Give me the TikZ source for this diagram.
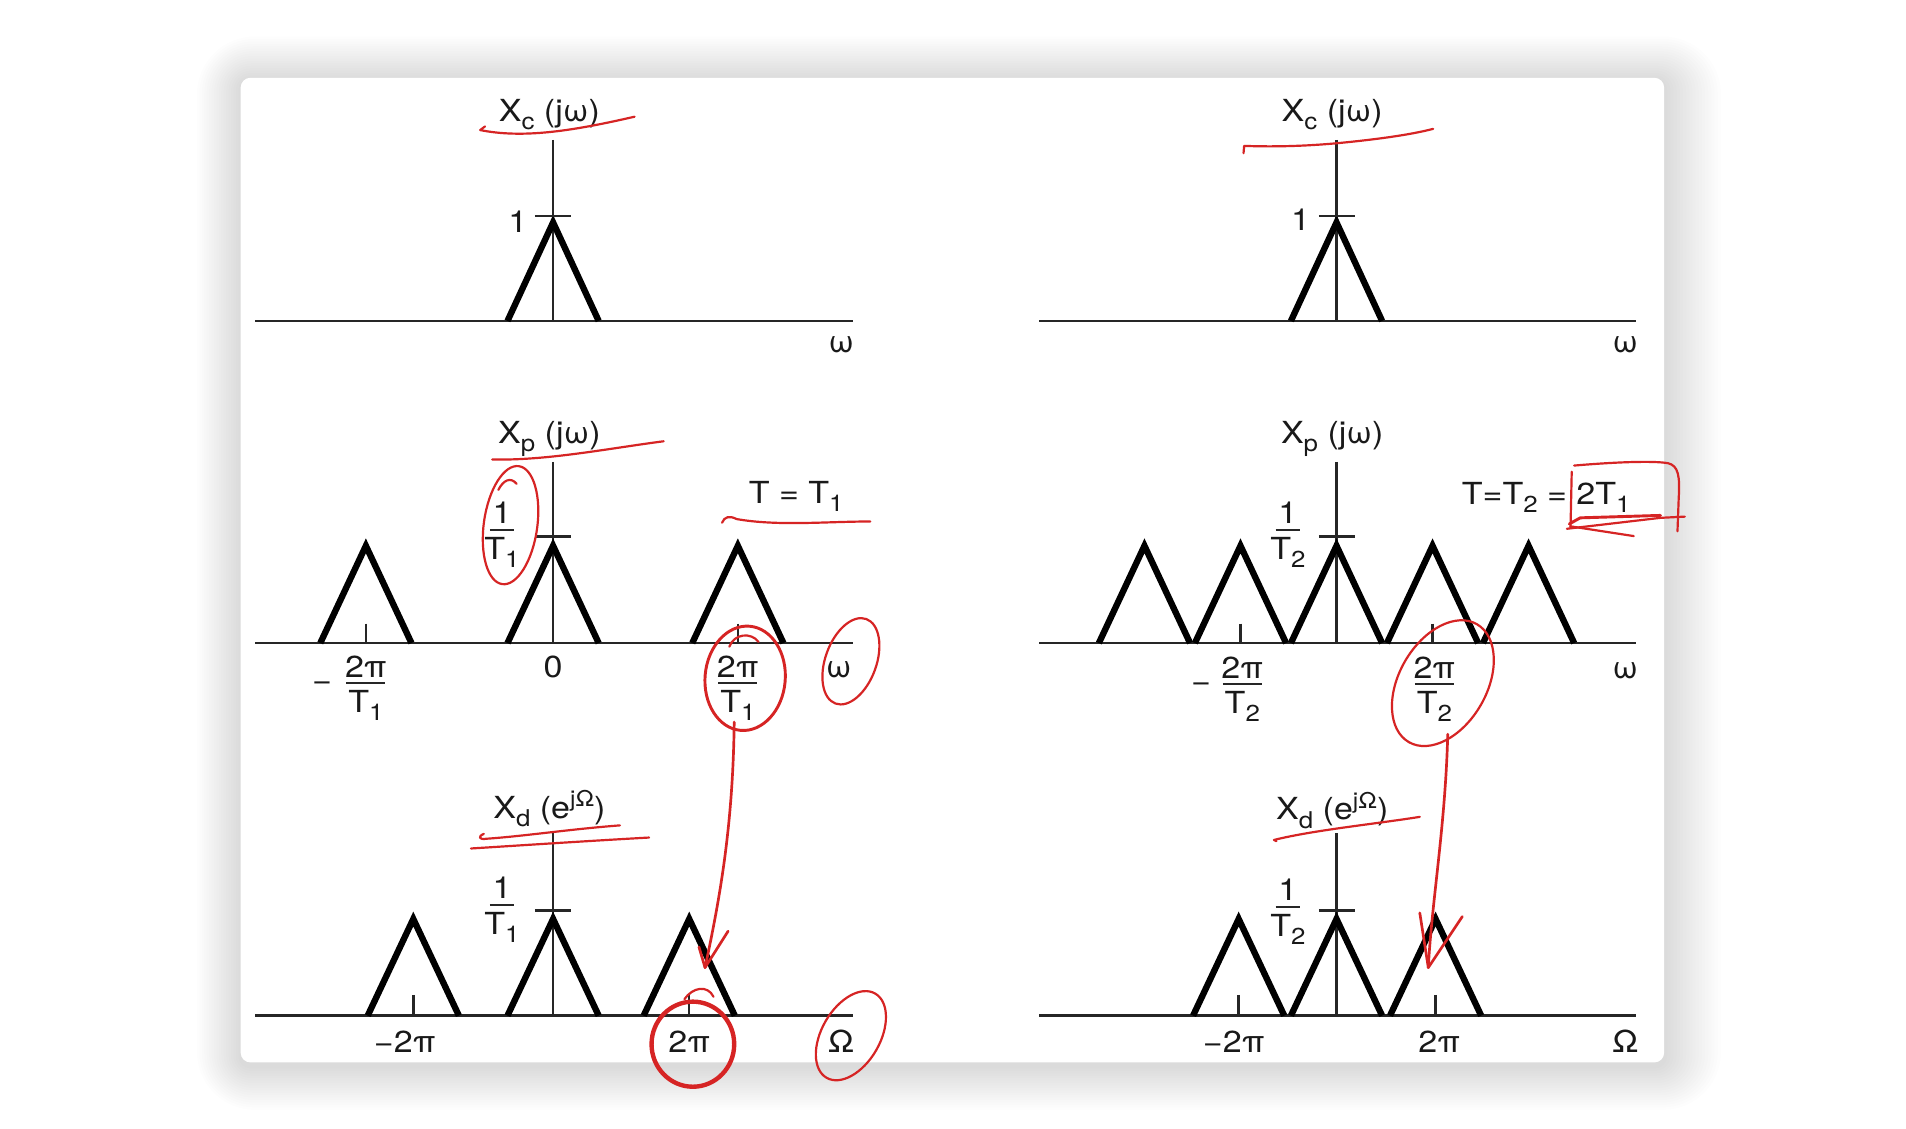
\documentclass[tikz,border=0pt]{standalone}
\usepackage{fontspec}
\setmainfont{TeX Gyre Heros}[FakeStretch=1.12]
\definecolor{inkred}{RGB}{214,36,36}
\newcommand\sbs[1]{\raisebox{-3.4pt}{\fontsize{9.5}{10}\selectfont #1}}
\newcommand\sps[1]{\raisebox{4.6pt}{\fontsize{9}{10}\selectfont #1}}
\newcommand\fracat[6]{%
  \node[lbl, anchor=base] (#1n) at (#2,#3-5) {#4};
  \node[lbl, anchor=base] (#1d) at (#2,#3+24) {#5};
  \draw[fracbar] (#2-#6,#3) -- (#2+#6,#3);}
\begin{document}
\begin{tikzpicture}[x=0.5pt,y=-0.5pt,
  lbl/.style={font=\fontsize{12.5}{14}\selectfont, inner sep=0pt, text=black!90},
  axis/.style={line width=1.1pt, black!85},
  vax/.style={line width=1pt, black!85},
  tri/.style={line width=2.6pt, line join=miter, black},
  tickm/.style={line width=1pt, black!85},
  fracbar/.style={line width=0.9pt, black!85},
  ink/.style={draw=inkred, line width=0.9pt, line cap=round, line join=round},
  inkm/.style={ink, line width=1.2pt},
  inkb/.style={ink, line width=1.8pt}]
\useasboundingbox (0,0) rectangle (1568,928);
\fill[white] (0,0) rectangle (1568,928);
% soft shadow round the card
\foreach \i in {1,...,18} {
  \pgfmathsetmacro\rr{4+\i*1.1}
  \pgfmathsetmacro\dd{\i*2}
  \fill[black, opacity=0.0085, rounded corners=\rr pt]
    (198-\dd,66-\dd) rectangle (1369+\dd+0.3*\dd,877+\dd);
}
\fill[white, rounded corners=4pt] (198,64) rectangle (1369,874);

% ===== top left =====
\draw[axis] (210,264) -- (702,264);
\draw[vax] (455,115) -- (455,264);
\draw[tri] (417.5,264) -- (455,183) -- (492.5,264);
\draw[tickm] (440,177.5) -- (470,177.5);
\node[lbl,anchor=base] (xcL) at (452,100) {X\sbs{c} (jω)};
\node[lbl,anchor=base] (oneL) at (426,191) {1};
\node[lbl,anchor=base] (wTL) at (692,290) {ω};

% ===== top right =====
\draw[axis] (855,264) -- (1346,264);
\draw[vax] (1099.5,115) -- (1099.5,264);
\draw[tri] (1062,264) -- (1099.5,183) -- (1137,264);
\draw[tickm] (1085,177.5) -- (1115,177.5);
\node[lbl,anchor=base] (xcR) at (1096,100) {X\sbs{c} (jω)};
\node[lbl,anchor=base] (oneR) at (1070,190) {1};
\node[lbl,anchor=base] (wTR) at (1337,290) {ω};

% ===== middle left =====
\draw[axis] (210,529) -- (702,529);
\draw[vax] (455,380) -- (455,529);
\foreach \c in {301,455,607} \draw[tri] (\c-37.5,529) -- (\c,449) -- (\c+37.5,529);
\draw[tickm] (440,441.5) -- (470,441.5);
\draw[tickm] (301,513) -- (301,529);
\draw[tickm] (607,513) -- (607,529);
\node[lbl,anchor=base] (xpL) at (452,365) {X\sbs{p} (jω)};
\fracat{fA}{413}{436}{1}{T\sbs{1}}{10}
\node[lbl,anchor=base] (mA) at (265,568) {−};
\fracat{fB}{301}{562}{2π}{T\sbs{1}}{16}
\node[lbl,anchor=base] (zero) at (455,557) {0};
\fracat{fC}{607}{562}{2π}{T\sbs{1}}{16}
\node[lbl,anchor=base] (wML) at (690,557) {ω};
\node[lbl,anchor=base] (tL) at (655,414) {T = T\sbs{1}};

% ===== middle right =====
\draw[axis] (855,529) -- (1346,529);
\draw[vax] (1099.5,380) -- (1099.5,529);
\foreach \c in {941.5,1020.5,1099.5,1178.5,1257.5} \draw[tri] (\c-37.5,529) -- (\c,449) -- (\c+37.5,529);
\draw[tickm] (1085,441.5) -- (1115,441.5);
\draw[tickm] (1020.5,513) -- (1020.5,529);
\draw[tickm] (1178.5,513) -- (1178.5,529);
\node[lbl,anchor=base] (xpR) at (1096,365) {X\sbs{p} (jω)};
\fracat{fD}{1059.5}{436}{1}{T\sbs{2}}{10}
\node[lbl,anchor=base] (mD) at (988,569) {−};
\fracat{fE}{1022}{563}{2π}{T\sbs{2}}{16}
\fracat{fF}{1180}{563}{2π}{T\sbs{2}}{16}
\node[lbl,anchor=base] (wMR) at (1337,558) {ω};
\node[lbl,anchor=base] (tR) at (1272,415) {T=T\sbs{2} = 2T\sbs{1}};

% ===== bottom left =====
\draw[axis] (210,835.5) -- (702,835.5);
\draw[vax] (455,685.5) -- (455,835.5);
\foreach \c in {340,455,567} \draw[tri] (\c-37.5,835.5) -- (\c,756) -- (\c+37.5,835.5);
\draw[tickm] (440,749) -- (470,749);
\draw[tickm] (340,818.5) -- (340,835.5);
\draw[tickm] (567,818.5) -- (567,835.5);
\node[lbl,anchor=base] (xdL) at (452,673) {X\sbs{d} (e\sps{jΩ})};
\fracat{fG}{413}{744.5}{1}{T\sbs{1}}{10}
\node[lbl,anchor=base] (m2piL) at (333,866) {−2π};
\node[lbl,anchor=base] (p2piL) at (567,866) {2π};
\node[lbl,anchor=base] (OmL) at (692,866) {Ω};

% ===== bottom right =====
\draw[axis] (855,835.5) -- (1346,835.5);
\draw[vax] (1099.5,685.5) -- (1099.5,835.5);
\foreach \c in {1019,1099.5,1181} \draw[tri] (\c-37.5,835.5) -- (\c,756) -- (\c+37.5,835.5);
\draw[tickm] (1085,749) -- (1115,749);
\draw[tickm] (1019,818.5) -- (1019,835.5);
\draw[tickm] (1181,818.5) -- (1181,835.5);
\node[lbl,anchor=base] (xdR) at (1096,674.5) {X\sbs{d} (e\sps{jΩ})};
\fracat{fH}{1059.5}{746}{1}{T\sbs{2}}{10}
\node[lbl,anchor=base] (m2piR) at (1015,866) {−2π};
\node[lbl,anchor=base] (p2piR) at (1184,866) {2π};
\node[lbl,anchor=base] (OmR) at (1337,866) {Ω};

% ===== red annotations =====
% underlines
\draw[ink] (399,104) -- (395,107) .. controls (430,114) and (470,108) .. (522,96);
\draw[ink] (1023,126) -- (1023.5,120) .. controls (1050,121) and (1075,120) .. (1098,118) .. controls (1130,115) and (1160,111) .. (1179,106);
\draw[ink] (405,378) .. controls (450,379) and (500,369) .. (546,363);
\draw[ink] (594,430) .. controls (596,425) and (600,424) .. (606,427) .. controls (640,433) and (680,429) .. (716,429);
\draw[ink] (398,686) .. controls (393,688) and (394,691) .. (400,690) .. controls (430,688) and (470,682) .. (510,679);
\draw[ink] (387.5,698) .. controls (420,696) and (480,692) .. (534,689);
\draw[ink] (1050,692) -- (1048,691) .. controls (1080,683) and (1130,678) .. (1168,672);
% ellipses
\draw[ink] [shift={(420,432)}, rotate=-8] (0,0) ellipse [x radius=11pt, y radius=24.5pt];
\draw[ink] (410,403) .. controls (414,395) and (420,392) .. (425,398);
\draw[inkm] [shift={(613,558)}, rotate=-5] (0,0) ellipse [x radius=16.5pt, y radius=21.5pt];
\draw[ink] (600,532) .. controls (604,521) and (618,520) .. (624,528);
\draw[ink] [shift={(700,544)}, rotate=-20] (0,0) ellipse [x radius=10.5pt, y radius=18.5pt];
\draw[inkb] [shift={(570,859)}] (0,0) ellipse [x radius=17pt, y radius=17.5pt];
\draw[ink] (563,822) .. controls (570,812) and (582,810) .. (587,820);
\draw[ink] [shift={(700,852)}, rotate=-30] (0,0) ellipse [x radius=12pt, y radius=20pt];
\draw[ink] [shift={(1187,562)}, rotate=-30] (0,0) ellipse [x radius=18pt, y radius=28pt];
% box round 2T1
\draw[ink] (1293,388) -- (1292,434);
\draw[ink] (1295,383) .. controls (1330,380) and (1360,379) .. (1372,381) .. controls (1381,383) and (1382,392) .. (1381,410) -- (1380,437);
\draw[inkm] (1291,431) -- (1300,426) -- (1366,424);
\draw[ink] (1289,435) -- (1366,426) -- (1386,425);
\draw[ink] (1292,433) -- (1344,441);
% arrows
\coordinate (a1s) at (604,594);
\coordinate (a1t) at (580,796);
\draw[ink, line width=1.1pt] (a1s) .. controls (603,680) and (592,740) .. (a1t);
\draw[ink, line width=1.1pt] (575,779) -- (a1t) -- (599,766);
\coordinate (a2s) at (1191,604);
\coordinate (a2t) at (1175,796);
\draw[ink, line width=1.1pt] (a2s) .. controls (1189,680) and (1178,740) .. (a2t);
\draw[ink, line width=1.1pt] (1168,751) -- (a2t) -- (1203,754);
\end{tikzpicture}
\end{document}
